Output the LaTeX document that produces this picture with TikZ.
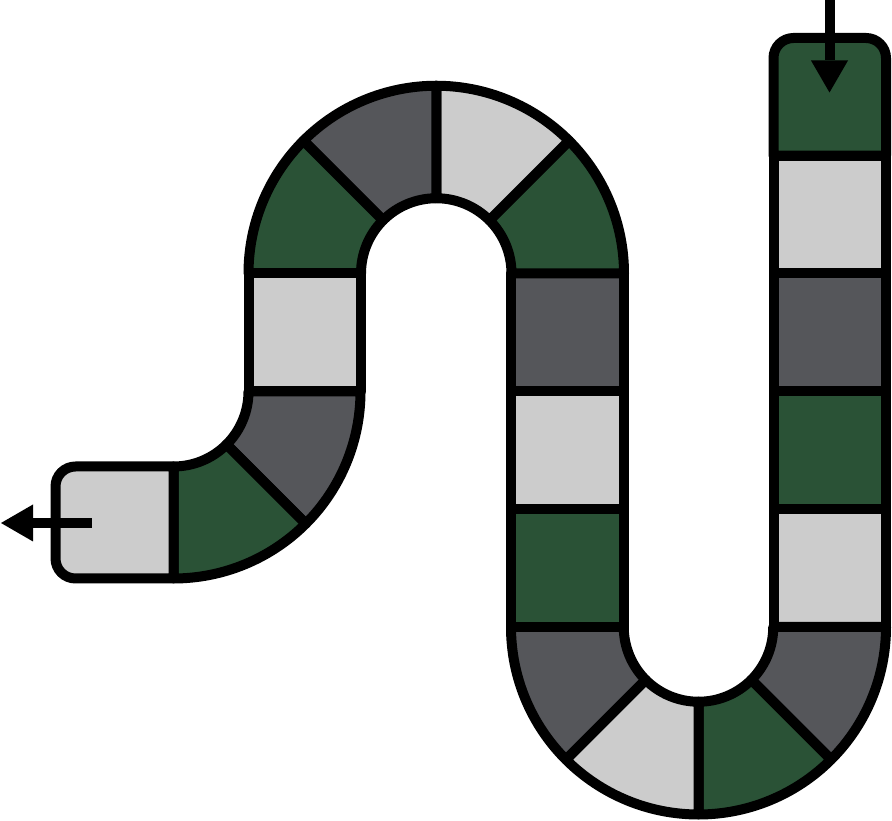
\documentclass[tikz,border=0pt]{standalone}
\usetikzlibrary{arrows.meta}
\definecolor{tgreen}{HTML}{2A5236}
\definecolor{tdark}{HTML}{55565A}
\definecolor{tlight}{HTML}{CCCCCC}
\tikzset{
  tile/.style={draw=black, line width=10pt, line join=round},
  flow/.style={draw=black, line width=10pt, -{Triangle[length=32pt,width=37pt,line width=0pt]}}
}
% rectangular tile: colour, x1, y1, x2, y2
\newcommand\rtile[5]{\filldraw[tile,fill=#1] (#2,#3) rectangle (#4,#5);}
% ring segment: colour, cx, cy, inner r, outer r, start angle, end angle
\newcommand\arcseg[7]{\filldraw[tile,fill=#1,shift={(#2,#3)}]
  (#6:#4pt) -- (#6:#5pt) arc[start angle=#6,end angle=#7,radius=#5pt]
  -- (#7:#4pt) arc[start angle=#7,end angle=#6,radius=#4pt] -- cycle;}
\begin{document}
\begin{tikzpicture}[x=1pt,y=1pt]
\useasboundingbox (0,0) rectangle (892,821);
% right column
\filldraw[tile,fill=tgreen] (773.5,665.3) -- (773.5,763) arc[start angle=180,end angle=90,radius=20pt]
  -- (866,783) arc[start angle=90,end angle=0,radius=20pt] -- (886,665.3) -- cycle;
\rtile{tlight}{773.5}{547.5}{886}{665.3}
\rtile{tdark}{773.5}{429.5}{886}{547.5}
\rtile{tgreen}{773.5}{311.7}{886}{429.5}
\rtile{tlight}{773.5}{194}{886}{311.7}
% bottom U-turn
\arcseg{tdark}{698.5}{194}{74.75}{187.5}{0}{-45}
\arcseg{tgreen}{698.5}{194}{74.75}{187.5}{-45}{-90}
\arcseg{tlight}{698.5}{194}{74.75}{187.5}{-90}{-135}
\arcseg{tdark}{698.5}{194}{74.75}{187.5}{-135}{-180}
% middle column
\rtile{tgreen}{511}{194}{624}{311.7}
\rtile{tlight}{511}{311.7}{624}{429.5}
\rtile{tdark}{511}{429.5}{624}{547.5}
% top U-turn
\arcseg{tgreen}{436.25}{547.5}{75.25}{187.75}{0}{45}
\arcseg{tlight}{436.25}{547.5}{75.25}{187.75}{45}{90}
\arcseg{tdark}{436.25}{547.5}{75.25}{187.75}{90}{135}
\arcseg{tgreen}{436.25}{547.5}{75.25}{187.75}{135}{180}
% left column
\rtile{tlight}{248.5}{429.5}{360.5}{547.5}
% bottom-left bend
\arcseg{tdark}{173.5}{429.5}{75}{187}{0}{-45}
\arcseg{tgreen}{173.5}{429.5}{75}{187}{-45}{-90}
% exit tile
\filldraw[tile,fill=tlight] (173.5,242.5) -- (75.5,242.5) arc[start angle=270,end angle=180,radius=20pt]
  -- (55.5,334.5) arc[start angle=180,end angle=90,radius=20pt] -- (173.5,354.5) -- cycle;
% arrows
\coordinate (inS) at (829.5,823);
\coordinate (inE) at (829.5,728.5);
\coordinate (outS) at (91.7,298);
\coordinate (outE) at (1,298);
\draw[flow] (inS) -- (inE);
\draw[flow] (outS) -- (outE);
\end{tikzpicture}
\end{document}
